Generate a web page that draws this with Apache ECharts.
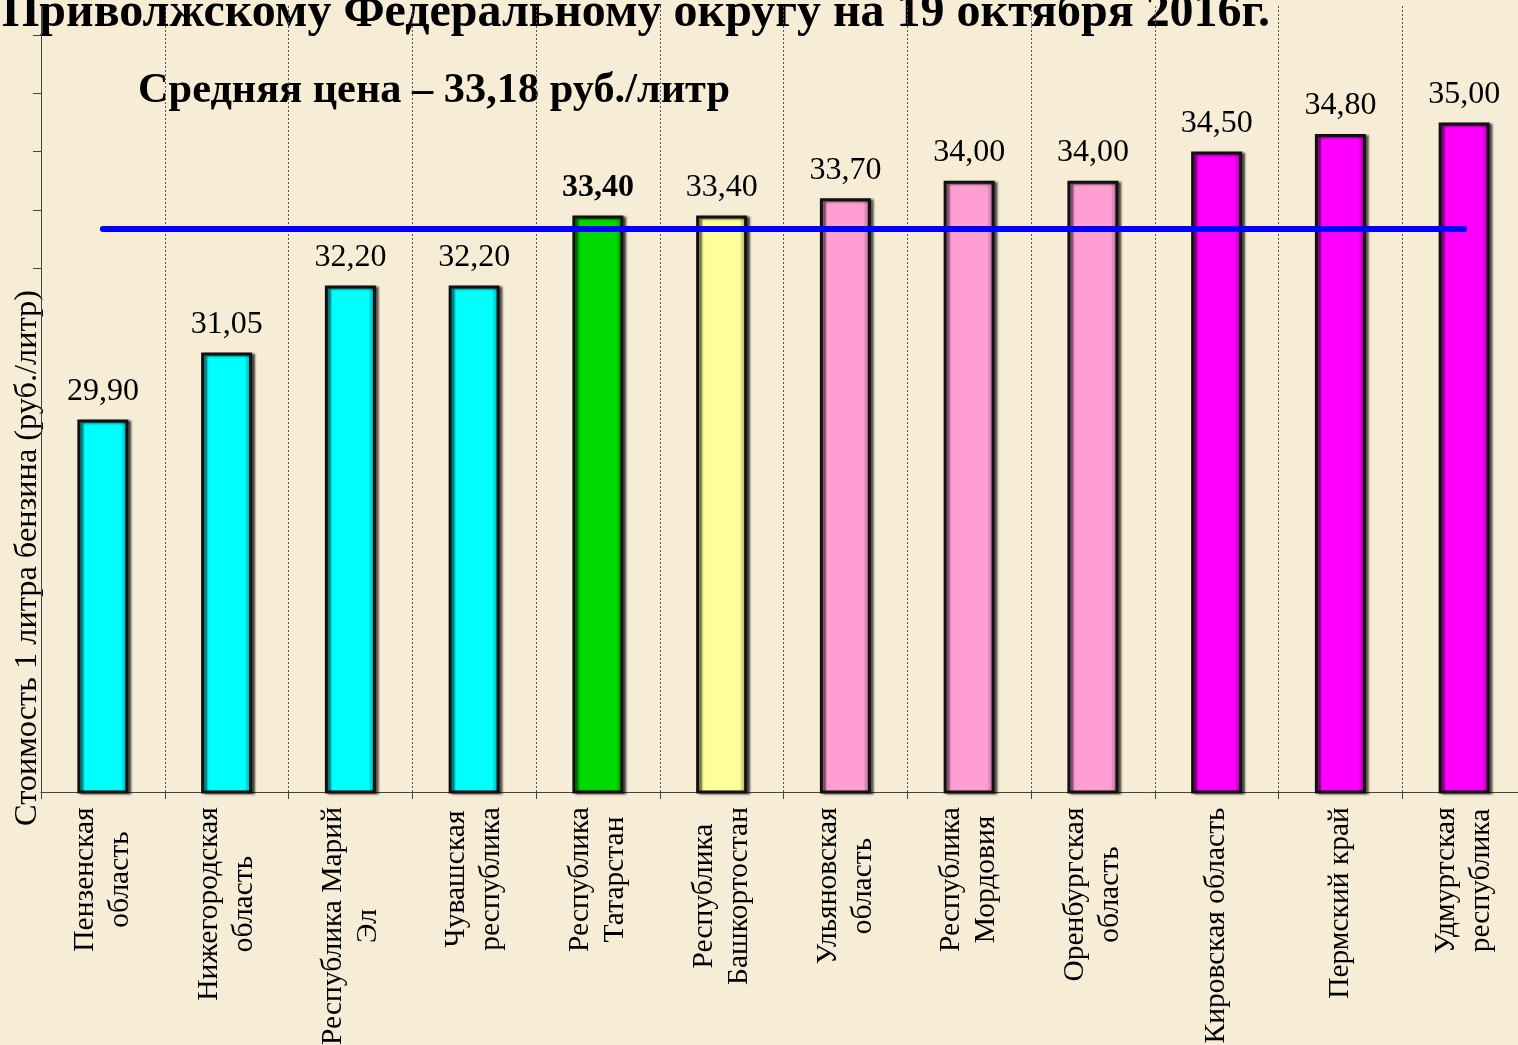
<!DOCTYPE html>
<html>
<head>
<meta charset="utf-8">
<title>Цены на бензин</title>
<script src="https://cdn.jsdelivr.net/npm/echarts@6/dist/echarts.min.js"></script>
<style>
  html, body { margin: 0; padding: 0; background: #F7EDD6; }
  #chart { width: 1518px; height: 1045px; }
</style>
</head>
<body>
<div id="chart"></div>
<script>
// данные графика
const regions = [
  'Пензенская\nобласть', 'Нижегородская\nобласть', 'Республика Марий\nЭл', 'Чувашская\nреспублика',
  'Республика\nТатарстан', 'Республика\nБашкортостан', 'Ульяновская\nобласть', 'Республика\nМордовия',
  'Оренбургская\nобласть', 'Кировская область', 'Пермский край', 'Удмуртская\nреспублика'
];
const prices = [29.90, 31.05, 32.20, 32.20, 33.40, 33.40, 33.70, 34.00, 34.00, 34.50, 34.80, 35.00];
const barColors = [
  '#00FFFF', '#00FFFF', '#00FFFF', '#00FFFF', '#00DA00', '#FFFF99',
  '#FF9ED2', '#FF9ED2', '#FF9ED2', '#FF00FF', '#FF00FF', '#FF00FF'
];
const averagePrice = 33.18;
const highlighted = 'Республика\nТатарстан';
const yTicks = [32.5, 33.5, 34.5, 35.5, 36.5];
const titleText = 'Приволжскому Федеральному округу на 19 октября 2016г.';
const subtitleText = 'Средняя цена – 33,18 руб./литр';
const yAxisTitle = 'Стоимость 1 литра бензина (руб./литр)';

const serif = 'Liberation Serif';
const ctx = document.createElement('canvas').getContext('2d');
function textWidth(t, font) { ctx.font = font; return ctx.measureText(t).width; }

// затемнение цвета для объёмного вида столбиков
function shade(hex, f) {
  const n = parseInt(hex.slice(1), 16);
  const r = Math.round(((n >> 16) & 255) * f), g = Math.round(((n >> 8) & 255) * f), b = Math.round((n & 255) * f);
  return `rgb(${r},${g},${b})`;
}
function bevel(hex) {
  return new echarts.graphic.LinearGradient(0, 0, 1, 0, [
    { offset: 0, color: shade(hex, 0.72) },
    { offset: 0.12, color: hex },
    { offset: 0.85, color: hex },
    { offset: 1, color: shade(hex, 0.58) }
  ]);
}

// подписи по оси X: строки по центру внутри блока
const labelSize = 29.5;
const labelFont = `${labelSize}px "${serif}"`;
const rich = {};
regions.forEach((r, i) => {
  const w = Math.max(...r.split('\n').map(l => textWidth(l, labelFont)));
  rich['r' + i] = { width: Math.ceil(w) + 2, align: 'center', fontSize: labelSize, fontFamily: serif, lineHeight: 35, color: '#000' };
});

const titleFont = `bold 40px "${serif}"`;
const titleSize = 40 * 1268 / textWidth(titleText, titleFont);
const subFont = `bold 43px "${serif}"`;
const subScale = 592 / textWidth(subtitleText, subFont);
const yTitleSize = 28 * 536 / textWidth(yAxisTitle, `28px "${serif}"`);

const barData = prices.map((v, i) => ({
  value: v,
  itemStyle: { color: bevel(barColors[i]) },
  label: regions[i] === highlighted ? { fontWeight: 'bold' } : {}
}));

const chart = echarts.init(document.getElementById('chart'));
chart.setOption({
  backgroundColor: '#F7EDD6',
  animation: false,
  grid: { left: 41, top: 6, width: 1485, bottom: 253, outerBoundsMode: 'none', containLabel: false },
  xAxis: {
    type: 'category',
    data: regions,
    axisLine: { lineStyle: { color: '#444', width: 1 } },
    axisTick: { show: true, length: 7, lineStyle: { color: '#444' } },
    splitLine: { show: true, lineStyle: { color: '#555', width: 1, type: [2, 2] } },
    axisLabel: {
      interval: 0,
      rotate: 90,
      margin: 14,
      formatter: (val, idx) => val.split('\n').map(l => `{r${idx}|${l}}`).join('\n'),
      rich: rich
    }
  },
  yAxis: {
    type: 'value',
    min: 23.5,
    max: 37,
    axisLine: { show: true, lineStyle: { color: '#444', width: 1 } },
    axisTick: { show: true, length: 8, customValues: yTicks, lineStyle: { color: '#444' } },
    axisLabel: { show: false },
    splitLine: { show: false }
  },
  graphic: [
    { type: 'text', x: 2, y: 14, style: { text: titleText, font: `bold ${titleSize}px "${serif}"`, fill: '#000', verticalAlign: 'middle' } },
    { type: 'text', x: 138, y: 91, scaleX: subScale, style: { text: subtitleText, font: subFont, fill: '#000', verticalAlign: 'middle' } },
    { type: 'text', x: 28, y: 558, rotation: Math.PI / 2, style: { text: yAxisTitle, font: `${yTitleSize}px "${serif}"`, fill: '#000', align: 'center', verticalAlign: 'middle' } }
  ],
  series: [{
    type: 'bar',
    data: barData,
    barWidth: 51,
    itemStyle: {
      borderColor: '#111',
      borderWidth: 3,
      shadowColor: 'rgba(0,0,0,0.55)',
      shadowOffsetX: 3,
      shadowOffsetY: 1,
      shadowBlur: 2
    },
    label: {
      show: true,
      position: 'top',
      distance: 12,
      fontFamily: serif,
      fontSize: 32,
      color: '#000',
      formatter: p => p.value.toFixed(2).replace('.', ',')
    },
    markLine: {
      silent: true,
      symbol: 'none',
      label: { show: false },
      lineStyle: { color: '#0000FF', width: 6, type: 'solid', cap: 'round' },
      data: [[{ coord: [0, averagePrice] }, { coord: [regions.length - 1, averagePrice] }]]
    }
  }]
});
</script>
</body>
</html>
